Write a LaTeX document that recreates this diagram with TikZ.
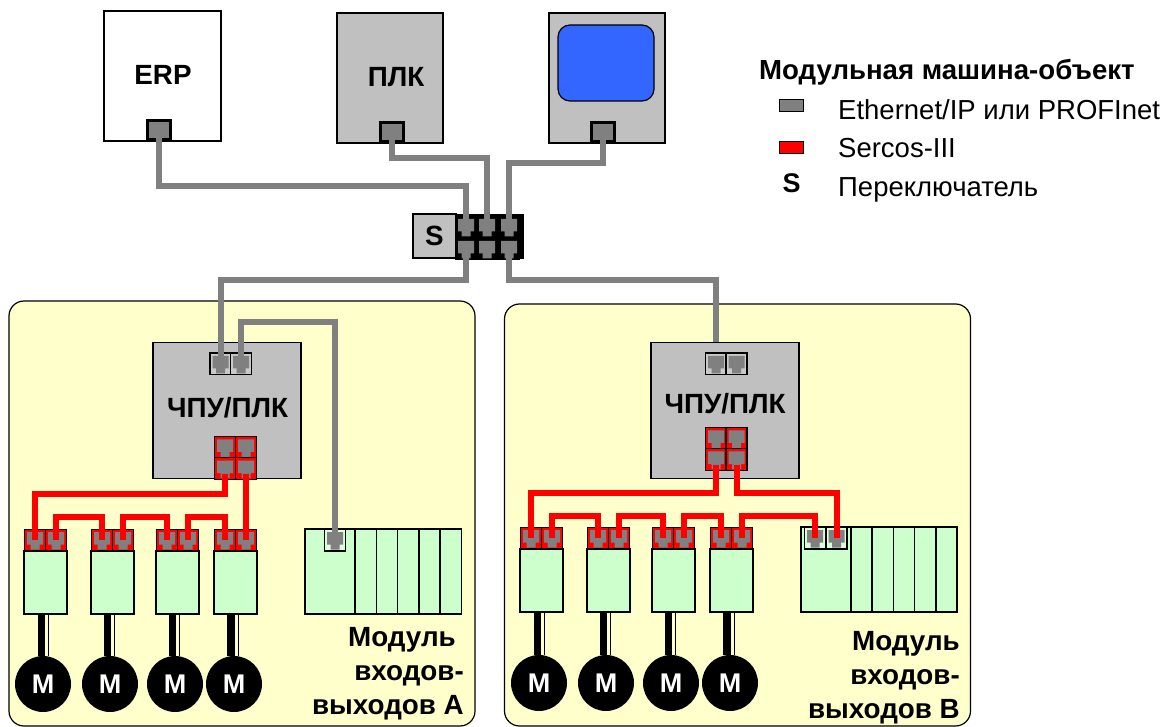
\documentclass[tikz,border=0pt]{standalone}
\usepackage{fontspec}
\setmainfont{Liberation Sans}
\usepackage{tikz}
\usepackage{xcolor}
\usetikzlibrary{calc}
\definecolor{BoxGray}{HTML}{C0C0C0}
\definecolor{PortGray}{HTML}{808080}
\definecolor{PanelYellow}{HTML}{FFFFCC}
\definecolor{ModuleGreen}{HTML}{CCFFCC}
\definecolor{ScreenBlue}{HTML}{3366FF}
\definecolor{SercosRed}{HTML}{FF0000}
\tikzset{
    % Node styles
    hostbox/.style={
        rectangle,
        draw=black,
        line width=1.5,
        minimum width=117,
        minimum height=130,
        inner sep=0
    },
    panelbox/.style={
        rectangle,
        rounded corners=15,
        draw=black,
        fill=PanelYellow,
        line width=1.2,
        minimum width=466,
        inner sep=0
    },
    cncbox/.style={
        rectangle,
        draw=black,
        fill=BoxGray,
        line width=1.6,
        minimum width=148,
        minimum height=136,
        inner sep=0
    },
    modulebox/.style={
        rectangle,
        draw=black,
        fill=ModuleGreen,
        line width=1.5,
        minimum width=43,
        minimum height=63,
        inner sep=0
    },
    slotbox/.style={
        rectangle,
        draw=black,
        fill=ModuleGreen,
        line width=1.5,
        minimum width=21.3,
        minimum height=85,
        inner sep=0
    },
    motorcircle/.style={
        circle,
        fill=black,
        text=white,
        minimum size=56,
        inner sep=0,
        font=\fontsize{27}{30}\bfseries\selectfont
    },
    % Port styles
    hostport/.style={
        rectangle,
        draw=black,
        fill=PortGray,
        line width=3,
        minimum width=23,
        minimum height=19,
        inner sep=0
    },
    jack/.style={
        rectangle,
        draw=black,
        line width=1.5,
        minimum width=21.3,
        minimum height=21.5,
        inner sep=0,
        path picture={
            \fill[PortGray,shift={(path picture bounding box.center)}]
                (-8,-8) -- (8,-8) -- (8,4.5) -- (4.5,4.5) -- (4.5,9.5) -- (-4.5,9.5) -- (-4.5,4.5) -- (-8,4.5) -- cycle;
        }
    },
    ethport/.style={jack,fill=BoxGray!85!white},
    ioport/.style={jack,fill=ModuleGreen!70!white},
    serport/.style={jack,fill=SercosRed},
    swport/.style={jack,draw=none,fill=black},
    % Wire styles
    ethwire/.style={
        draw=PortGray,
        line width=6
    },
    serwire/.style={
        draw=SercosRed,
        line width=6
    },
    powerline/.style={
        draw=black,
        line width=6
    },
    signalline/.style={
        draw=black,
        line width=1.2,
        double=PanelYellow,
        double distance=3
    },
    % Text styles
    boldlabel/.style={
        inner sep=0,
        font=\fontsize{27.8}{34}\bfseries\selectfont
    },
    legendtext/.style={
        inner sep=0,
        anchor=base west,
        font=\fontsize{27.5}{30}\selectfont
    }
}
\begin{document}
\begin{tikzpicture}[x=1pt,y=-1pt]
    \useasboundingbox (0,0) rectangle (1171,727);

    % Top row
    \node[hostbox,fill=white] (erp) at (162.5,76) {};
    \node[hostbox,fill=BoxGray,minimum width=106] (plc) at (390,78) {};
    \node[hostbox,fill=BoxGray,minimum width=116] (hmi) at (607,78) {};
    \node[rectangle,rounded corners=12,draw=black,fill=ScreenBlue,line width=1.2,minimum width=96,minimum height=76] (screen) at (606,63) {};
    \node[boldlabel] (erplabel) at (163,75) {ERP};
    \node[boldlabel] (plclabel) at (396,77) {ПЛК};
    \node[hostport] (erpport) at (159,130) {};
    \node[hostport] (plcport) at (391.5,132) {};
    \node[hostport] (hmiport) at (602.5,132.5) {};

    % Switch
    \node[rectangle,draw=black,fill=BoxGray,line width=1.2,minimum width=43,minimum height=44,inner sep=0,font=\fontsize{27.8}{30}\bfseries\selectfont] (sw) at (434.5,236) {S};
    \node[rectangle,draw=black,fill=black,minimum width=67,minimum height=44,inner sep=0] (swbar) at (489.5,236) {};
    \node[swport] (swp1) at (466,227) {};
    \node[swport] (swp2) at (487,227) {};
    \node[swport] (swp3) at (509,227) {};
    \node[swport] (swp4) at (466,249) {};
    \node[swport] (swp5) at (487,249) {};
    \node[swport] (swp6) at (509,249) {};

    % Module panels
    \node[panelbox,minimum height=425] (panelA) at (242,513.5) {};
    \node[panelbox,minimum height=422] (panelB) at (737.5,515) {};

    % Controller A
    \node[cncbox] (cncA) at (227,410.5) {};
    \node[boldlabel] (cncAlabel) at (227.5,408) {ЧПУ/ПЛК};
    \node[ethport] (cncAeth1) at (220.5,364) {};
    \node[ethport] (cncAeth2) at (241,364) {};
    \node[serport] (cncAser1) at (225,447.5) {};
    \node[serport] (cncAser2) at (246,447.5) {};
    \node[serport] (cncAser3) at (225,468.5) {};
    \node[serport] (cncAser4) at (246,468.5) {};

    % Controller B
    \node[cncbox] (cncB) at (725,410.5) {};
    \node[boldlabel] (cncBlabel) at (725,404) {ЧПУ/ПЛК};
    \node[ethport] (cncBeth1) at (716,364) {};
    \node[ethport] (cncBeth2) at (736.5,364) {};
    \node[serport] (cncBser1) at (716,438.5) {};
    \node[serport] (cncBser2) at (736.5,438.5) {};
    \node[serport] (cncBser3) at (716,459.5) {};
    \node[serport] (cncBser4) at (736.5,459.5) {};

    % Drives A
    \node[modulebox] (modA1) at (45.5,582.5) {};
    \node[modulebox] (modA2) at (112.5,582.5) {};
    \node[modulebox] (modA3) at (177.5,582.5) {};
    \node[modulebox] (modA4) at (235.5,582.5) {};
    \node[serport] (modA1p1) at (35,540) {};
    \node[serport] (modA1p2) at (56,540) {};
    \node[serport] (modA2p1) at (102,540) {};
    \node[serport] (modA2p2) at (123,540) {};
    \node[serport] (modA3p1) at (167,540) {};
    \node[serport] (modA3p2) at (188,540) {};
    \node[serport] (modA4p1) at (225,540) {};
    \node[serport] (modA4p2) at (246,540) {};
    \node[motorcircle] (motorA1) at (43,684) {M};
    \node[motorcircle] (motorA2) at (110,684) {M};
    \node[motorcircle] (motorA3) at (175,684) {M};
    \node[motorcircle] (motorA4) at (234,684) {M};

    % Drives B
    \node[modulebox] (modB1) at (541.5,580.5) {};
    \node[modulebox] (modB2) at (608.5,580.5) {};
    \node[modulebox] (modB3) at (673.5,580.5) {};
    \node[modulebox] (modB4) at (731.5,580.5) {};
    \node[serport] (modB1p1) at (531,538) {};
    \node[serport] (modB1p2) at (552,538) {};
    \node[serport] (modB2p1) at (598,538) {};
    \node[serport] (modB2p2) at (619,538) {};
    \node[serport] (modB3p1) at (663,538) {};
    \node[serport] (modB3p2) at (684,538) {};
    \node[serport] (modB4p1) at (721,538) {};
    \node[serport] (modB4p2) at (742,538) {};
    \node[motorcircle] (motorB1) at (539,683) {M};
    \node[motorcircle] (motorB2) at (606,683) {M};
    \node[motorcircle] (motorB3) at (671,683) {M};
    \node[motorcircle] (motorB4) at (730,683) {M};

    % Input-output module A
    \node[slotbox,minimum width=50] (ioA) at (330,571.5) {};
    \node[slotbox] (ioAs1) at (365.6,571.5) {};
    \node[slotbox] (ioAs2) at (387,571.5) {};
    \node[slotbox] (ioAs3) at (408.2,571.5) {};
    \node[slotbox] (ioAs4) at (429.5,571.5) {};
    \node[slotbox] (ioAs5) at (450.8,571.5) {};
    \node[ioport] (ioAp) at (335,540) {};
    \node[boldlabel,align=right,anchor=north east] (ioAlabel) at (464,627) {Модуль\hspace*{8pt}\\входов-\\выходов А};

    % Input-output module B
    \node[slotbox,minimum width=50] (ioB) at (826,569.5) {};
    \node[slotbox] (ioBs1) at (861.6,569.5) {};
    \node[slotbox] (ioBs2) at (882.8,569.5) {};
    \node[slotbox] (ioBs3) at (904,569.5) {};
    \node[slotbox] (ioBs4) at (925.2,569.5) {};
    \node[slotbox] (ioBs5) at (946.5,569.5) {};
    \node[ioport] (ioBp1) at (815,538) {};
    \node[ioport] (ioBp2) at (836.5,538) {};
    \node[boldlabel,align=right,anchor=north east] (ioBlabel) at (960,631) {Модуль\\входов-\\выходов В};

    % Ethernet wires
    \draw[ethwire] (erpport.center) -- ++(0,56) -| (swp1.center);
    \draw[ethwire] (plcport.center) -- ++(0,26) -| (swp2.center);
    \draw[ethwire] (hmiport.center) -- ++(0,31) -| (swp3.center);
    \draw[ethwire] (swp4.center) -- ++(0,31) -| (cncAeth1.center);
    \draw[ethwire] (swp6.center) -- ++(0,31) -| (cncB.north -| cncBeth1.center);
    \draw[ethwire] (cncAeth2.center) -- ++(0,-42) -| (ioAp.center);

    % Sercos wires A
    \draw[serwire] (cncAser3.center) ++(0,5) -- ++(0,20) -| (modA1p1.center);
    \draw[serwire] (cncAser4.center) ++(0,5) -- (modA4p2.center);
    \draw[serwire] (modA1p2.center) -- ++(0,-23) -| (modA2p1.center);
    \draw[serwire] (modA2p2.center) -- ++(0,-23) -| (modA3p1.center);
    \draw[serwire] (modA3p2.center) -- ++(0,-23) -| (modA4p1.center);

    % Sercos wires B
    \draw[serwire] (cncBser3.center) ++(0,5) -- ++(0,28.5) -| (modB1p1.center);
    \draw[serwire] (cncBser4.center) ++(0,5) -- ++(0,28.5) -| (ioBp2.center);
    \draw[serwire] (modB1p2.center) -- ++(0,-22) -| (modB2p1.center);
    \draw[serwire] (modB2p2.center) -- ++(0,-22) -| (modB3p1.center);
    \draw[serwire] (modB3p2.center) -- ++(0,-22) -| (modB4p1.center);
    \draw[serwire] (modB4p2.center) -- ++(0,-22) -| (ioBp1.center);

    % Motor cables A
    \draw[powerline] ([xshift=-2.5]motorA1.north) -- ([xshift=-2.5]motorA1.north |- modA1.south);
    \draw[signalline] ([xshift=3.5]motorA1.north) -- ([xshift=3.5]motorA1.north |- modA1.south);
    \draw[powerline] ([xshift=-3]motorA2.north) -- ([xshift=-3]motorA2.north |- modA2.south);
    \draw[signalline] ([xshift=2.5]motorA2.north) -- ([xshift=2.5]motorA2.north |- modA2.south);
    \draw[powerline] ([xshift=-3]motorA3.north) -- ([xshift=-3]motorA3.north |- modA3.south);
    \draw[signalline] ([xshift=2.5]motorA3.north) -- ([xshift=2.5]motorA3.north |- modA3.south);
    \draw[powerline] ([xshift=-4]motorA4.north) -- ([xshift=-4]motorA4.north |- modA4.south);
    \draw[signalline] ([xshift=2]motorA4.north) -- ([xshift=2]motorA4.north |- modA4.south);

    % Motor cables B
    \draw[powerline] ([xshift=-2.5]motorB1.north) -- ([xshift=-2.5]motorB1.north |- modB1.south);
    \draw[signalline] ([xshift=3.5]motorB1.north) -- ([xshift=3.5]motorB1.north |- modB1.south);
    \draw[powerline] ([xshift=-3]motorB2.north) -- ([xshift=-3]motorB2.north |- modB2.south);
    \draw[signalline] ([xshift=2.5]motorB2.north) -- ([xshift=2.5]motorB2.north |- modB2.south);
    \draw[powerline] ([xshift=-3]motorB3.north) -- ([xshift=-3]motorB3.north |- modB3.south);
    \draw[signalline] ([xshift=2.5]motorB3.north) -- ([xshift=2.5]motorB3.north |- modB3.south);
    \draw[powerline] ([xshift=-4]motorB4.north) -- ([xshift=-4]motorB4.north |- modB4.south);
    \draw[signalline] ([xshift=2]motorB4.north) -- ([xshift=2]motorB4.north |- modB4.south);

    % Legend
    \node[inner sep=0,anchor=base west,font=\fontsize{27.6}{30}\bfseries\selectfont] (legendtitle) at (759,79.5) {Модульная машина-объект};
    \node[rectangle,draw=black,fill=PortGray,line width=1,minimum width=24,minimum height=12,inner sep=0] (legendeth) at (791,106) {};
    \node[rectangle,draw=black,fill=SercosRed,line width=1,minimum width=24,minimum height=12,inner sep=0] (legendser) at (791,148) {};
    \node[inner sep=0,font=\fontsize{27}{30}\bfseries\selectfont] (legendsw) at (791.5,183) {S};
    \node[legendtext] (legendethtext) at (838,119.5) {Ethernet/IP или PROFInet};
    \node[legendtext] (legendsertext) at (838,158) {Sercos-III};
    \node[legendtext] (legendswtext) at (838,197) {Переключатель};
\end{tikzpicture}
\end{document}
